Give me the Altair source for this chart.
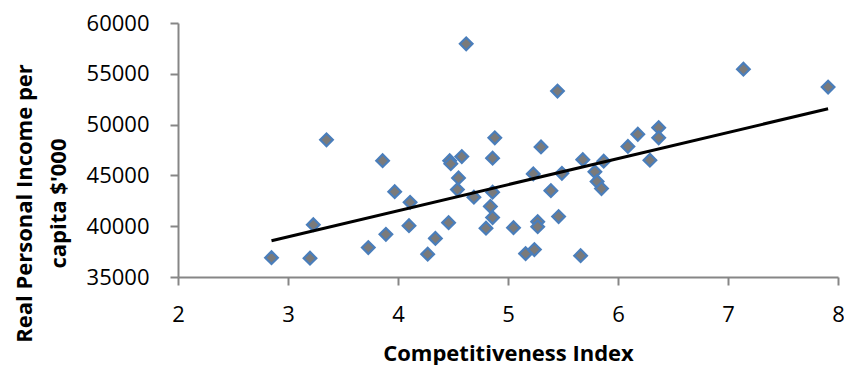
import altair as alt
import pandas as pd

competitiveness = [2.85, 3.20, 3.23, 3.35, 3.73, 3.86, 3.89, 3.97, 4.10, 4.11,
                   4.27, 4.34, 4.46, 4.47, 4.48, 4.54, 4.55, 4.58, 4.62, 4.69,
                   4.80, 4.84, 4.86, 4.86, 4.86, 4.88, 5.05, 5.16, 5.24, 5.23,
                   5.27, 5.27, 5.30, 5.39, 5.45, 5.46, 5.49, 5.66, 5.68, 5.79,
                   5.81, 5.85, 5.87, 6.09, 6.18, 6.29, 6.37, 6.37, 7.14, 7.91]
income = [36900, 36850, 40150, 48500, 37900, 46450, 39200, 43400, 40050, 42350,
          37250, 38800, 40350, 46450, 46150, 43600, 44750, 46850, 57950, 42850,
          39800, 41950, 40850, 46700, 43350, 48700, 39850, 37300, 37700, 45150,
          40450, 39950, 47800, 43500, 53300, 40950, 45200, 37100, 46550, 45350,
          44400, 43700, 46400, 47850, 49050, 46500, 49700, 48700, 55450, 53700]
x_ticks = [2, 3, 4, 5, 6, 7, 8]
y_ticks = [35000, 40000, 45000, 50000, 55000, 60000]

df = pd.DataFrame({"ci": competitiveness, "inc": income})

FONT = "Open Sans"

x = alt.X("ci:Q", scale=alt.Scale(domain=[2, 8], nice=False, zero=False),
          axis=alt.Axis(values=x_ticks, title="Competitiveness Index", format="d",
                        grid=False, tickSize=8, labelPadding=19, titlePadding=18,
                        labelFlush=False))
y = alt.Y("inc:Q", scale=alt.Scale(domain=[35000, 60000], nice=False, zero=False),
          axis=alt.Axis(values=y_ticks,
                        title=["Real Personal Income per", "capita $'000"],
                        grid=False, tickSize=8, labelPadding=21, format="d",
                        labelFlush=False,
                        titleX=-164, titleY=180, titleBaseline="top",
                        titleAlign="center", titleAngle=270, titleLineHeight=34))

points = alt.Chart(df).mark_point(shape="diamond", filled=True, size=160,
                                  fill="#7a7a7a", stroke="#4a7ebb", strokeWidth=2.2,
                                  opacity=1).encode(x=x, y=y)

trend = alt.Chart(df).transform_regression("ci", "inc").mark_line(
    color="black", strokeWidth=3).encode(x="ci:Q", y="inc:Q")

chart = (points + trend).properties(
    width=660, height=254,
    autosize=alt.AutoSizeParams(type="none"),
    padding={"left": 170, "top": 15, "right": 6, "bottom": 90},
).configure_view(stroke=None).configure_axis(
    domainColor="#868686", domainWidth=2, tickColor="#868686", tickWidth=2,
    labelFont=FONT, labelFontSize=22, labelColor="#000000",
    titleFont=FONT, titleFontSize=22, titleFontWeight="bold", titleColor="#000000",
)

chart.save("out.html", embed_options={"renderer": "svg", "actions": False})
